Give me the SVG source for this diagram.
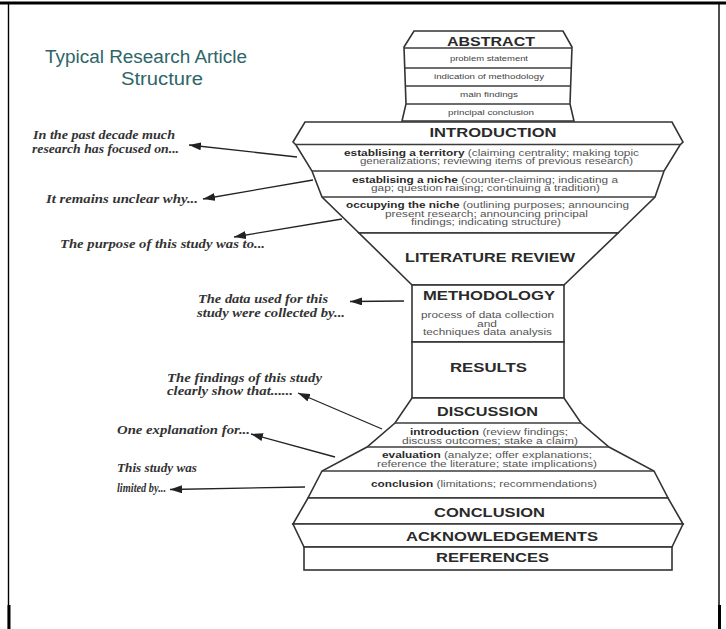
<svg xmlns="http://www.w3.org/2000/svg" width="726" height="629" viewBox="0 0 726 629">
<style>
.shape{fill:#fff;stroke:#333;stroke-width:1.6;stroke-linejoin:miter}
.div{stroke:#3c3c3c;stroke-width:1.4;fill:none}
.hdr{font-family:"Liberation Sans",Arial,sans-serif;font-weight:bold;font-size:12px;fill:#2a2a2a;text-anchor:middle}
.sm{font-family:"Liberation Sans",Arial,sans-serif;font-size:9px;fill:#555;text-anchor:middle}
.xs{font-family:"Liberation Sans",Arial,sans-serif;font-size:8px;fill:#444;text-anchor:middle}
.b{font-weight:bold;fill:#2a2a2a}
.lbl{font-family:"Liberation Serif","Times New Roman",serif;font-style:italic;font-weight:bold;font-size:12.5px;fill:#333}
.title{font-family:"Liberation Sans",Arial,sans-serif;font-size:18px;fill:#2d6668;text-anchor:middle}
.conn{stroke:#222;stroke-width:1.3;fill:none;marker-end:url(#ah)}
.frame{stroke:#000;fill:none}
</style>
<defs>
<marker id="ah" markerUnits="userSpaceOnUse" markerWidth="13" markerHeight="8" refX="12" refY="4" orient="auto">
<path d="M0,0 L12,4 L0,8 Z" fill="#222"/>
</marker>
</defs>
<rect width="726" height="629" fill="#fff"/>
<g id="frame">
<line class="frame" x1="0" y1="3" x2="726" y2="3" stroke-width="3"/>
<line class="frame" x1="8.5" y1="3" x2="8.5" y2="629" stroke-width="1.4"/>
<line class="frame" x1="719" y1="3" x2="719" y2="629" stroke-width="1.4"/>
<line class="frame" x1="9" y1="605" x2="9" y2="629" stroke-width="3"/>
<line class="frame" x1="719.5" y1="605" x2="719.5" y2="629" stroke-width="3"/>
</g>
<g id="title">
<text class="title" x="146" y="63" textLength="202" lengthAdjust="spacingAndGlyphs">Typical Research Article</text>
<text class="title" x="162" y="85" textLength="82" lengthAdjust="spacingAndGlyphs">Structure</text>
</g>
<g id="abstract">
<polygon class="shape" points="414,31 563,31 572,47 570,104 574,121 402,121 406,104 404,47"/>
<line class="div" x1="404" y1="48" x2="572" y2="48"/>
<line class="div" x1="405" y1="68" x2="571" y2="68"/>
<line class="div" x1="405.5" y1="86" x2="570.5" y2="86"/>
<line class="div" x1="406" y1="104" x2="570" y2="104"/>
<text class="hdr" x="491" y="45.5" textLength="88" lengthAdjust="spacingAndGlyphs">ABSTRACT</text>
<text class="xs" x="489" y="60.5" textLength="78" lengthAdjust="spacingAndGlyphs">problem statement</text>
<text class="xs" x="489" y="79" textLength="110" lengthAdjust="spacingAndGlyphs">indication of methodology</text>
<text class="xs" x="489" y="96.5" textLength="58" lengthAdjust="spacingAndGlyphs">main findings</text>
<text class="xs" x="491" y="114.5" textLength="86" lengthAdjust="spacingAndGlyphs">principal conclusion</text>
</g>
<g id="introduction">
<polygon class="shape" points="305,122 672,122 683,142 680,145 664,171 655,197 618,233 359,233 322,197 312,171 296,145 293,142"/>
<line class="div" x1="296" y1="144.5" x2="680" y2="144.5"/>
<line class="div" x1="312" y1="171" x2="664" y2="171"/>
<line class="div" x1="322" y1="197" x2="655" y2="197"/>
<text class="hdr" x="493" y="136.5" textLength="127" lengthAdjust="spacingAndGlyphs">INTRODUCTION</text>
<text class="sm" x="491.5" y="155.5" textLength="295" lengthAdjust="spacingAndGlyphs"><tspan class="b">establising a territory</tspan> (claiming centrality; making topic</text>
<text class="sm" x="496.5" y="164" textLength="273" lengthAdjust="spacingAndGlyphs">generalizations; reviewing items of previous research)</text>
<text class="sm" x="485" y="182.5" textLength="266" lengthAdjust="spacingAndGlyphs"><tspan class="b">establising a niche</tspan> (counter-claiming; indicating a</text>
<text class="sm" x="485.5" y="191" textLength="229" lengthAdjust="spacingAndGlyphs">gap; question raising; continuing a tradition)</text>
<text class="sm" x="487.5" y="207.5" textLength="283" lengthAdjust="spacingAndGlyphs"><tspan class="b">occupying the niche</tspan> (outlining purposes; announcing</text>
<text class="sm" x="486.5" y="216.5" textLength="203" lengthAdjust="spacingAndGlyphs">present research; announcing principal</text>
<text class="sm" x="486" y="225" textLength="150" lengthAdjust="spacingAndGlyphs">findings; indicating structure)</text>
</g>
<g id="literature-review">
<polygon class="shape" points="359,233 618,233 564,285 412,285"/>
<text class="hdr" x="490" y="261.5" textLength="170" lengthAdjust="spacingAndGlyphs">LITERATURE REVIEW</text>
</g>
<g id="methodology">
<rect class="shape" x="412" y="285" width="152" height="57"/>
<text class="hdr" x="489" y="300" textLength="132" lengthAdjust="spacingAndGlyphs">METHODOLOGY</text>
<text class="sm" x="487.5" y="318" textLength="133" lengthAdjust="spacingAndGlyphs">process of data collection</text>
<text class="sm" x="487" y="326.5" textLength="20" lengthAdjust="spacingAndGlyphs">and</text>
<text class="sm" x="487.5" y="335" textLength="129" lengthAdjust="spacingAndGlyphs">techniques data analysis</text>
</g>
<g id="results">
<rect class="shape" x="412" y="342" width="152" height="56"/>
<text class="hdr" x="488.5" y="371.5" textLength="77" lengthAdjust="spacingAndGlyphs">RESULTS</text>
</g>
<g id="discussion">
<polygon class="shape" points="412,398 564,398 581,423 609,447 654,471 668,498 308,498 322,471 367,447 395,423"/>
<line class="div" x1="395" y1="423" x2="581" y2="423"/>
<line class="div" x1="367" y1="447" x2="609" y2="447"/>
<line class="div" x1="322" y1="471" x2="654" y2="471"/>
<text class="hdr" x="487.5" y="416" textLength="101" lengthAdjust="spacingAndGlyphs">DISCUSSION</text>
<text class="sm" x="489" y="435" textLength="158" lengthAdjust="spacingAndGlyphs"><tspan class="b">introduction</tspan> (review findings;</text>
<text class="sm" x="490" y="443.5" textLength="176" lengthAdjust="spacingAndGlyphs">discuss outcomes; stake a claim)</text>
<text class="sm" x="487" y="458" textLength="210" lengthAdjust="spacingAndGlyphs"><tspan class="b">evaluation</tspan> (analyze; offer explanations;</text>
<text class="sm" x="487" y="466.5" textLength="220" lengthAdjust="spacingAndGlyphs">reference the literature; state implications)</text>
<text class="sm" x="484" y="487" textLength="226" lengthAdjust="spacingAndGlyphs"><tspan class="b">conclusion</tspan> (limitations; recommendations)</text>
</g>
<g id="conclusion">
<polygon class="shape" points="308,498 668,498 683,524 293,524"/>
<text class="hdr" x="489.5" y="516.5" textLength="111" lengthAdjust="spacingAndGlyphs">CONCLUSION</text>
</g>
<g id="acknowledgements">
<polygon class="shape" points="293,524 683,524 672,547 304,547"/>
<text class="hdr" x="502" y="540.5" textLength="192" lengthAdjust="spacingAndGlyphs">ACKNOWLEDGEMENTS</text>
</g>
<g id="references">
<rect class="shape" x="304" y="547" width="368" height="23"/>
<text class="hdr" x="492.5" y="561.5" textLength="113" lengthAdjust="spacingAndGlyphs">REFERENCES</text>
</g>
<g id="label-1">
<text class="lbl" x="33" y="139" textLength="142" lengthAdjust="spacingAndGlyphs">In the past decade much</text>
<text class="lbl" x="32" y="152.5" textLength="147" lengthAdjust="spacingAndGlyphs">research has focused on...</text>
</g>
<g id="label-2">
<text class="lbl" x="46" y="202.5" textLength="152" lengthAdjust="spacingAndGlyphs">It remains unclear why...</text>
</g>
<g id="label-3">
<text class="lbl" x="60" y="248" textLength="205" lengthAdjust="spacingAndGlyphs">The purpose of this study was to...</text>
</g>
<g id="label-4">
<text class="lbl" x="198" y="302.5" textLength="130" lengthAdjust="spacingAndGlyphs">The data used for this</text>
<text class="lbl" x="197" y="316.5" textLength="148" lengthAdjust="spacingAndGlyphs">study were collected by...</text>
</g>
<g id="label-5">
<text class="lbl" x="167" y="381.5" textLength="155" lengthAdjust="spacingAndGlyphs">The findings of this study</text>
<text class="lbl" x="167" y="394.5" textLength="126" lengthAdjust="spacingAndGlyphs">clearly show that......</text>
</g>
<g id="label-6">
<text class="lbl" x="117" y="434" textLength="133" lengthAdjust="spacingAndGlyphs">One explanation for...</text>
</g>
<g id="label-7">
<text class="lbl" x="117" y="472" textLength="80" lengthAdjust="spacingAndGlyphs">This study was</text>
<text class="lbl" x="117" y="492" textLength="49" lengthAdjust="spacingAndGlyphs">limited by...</text>
</g>
<g id="connectors">
<line class="conn" x1="297" y1="157" x2="189" y2="145"/>
<line class="conn" x1="313" y1="180" x2="203" y2="199"/>
<line class="conn" x1="342" y1="219" x2="234" y2="237"/>
<line class="conn" x1="404" y1="301" x2="350" y2="301.5"/>
<line class="conn" x1="382" y1="429" x2="298" y2="393"/>
<line class="conn" x1="335" y1="457" x2="251" y2="434"/>
<line class="conn" x1="305" y1="487" x2="170" y2="489.5"/>
</g>
</svg>
